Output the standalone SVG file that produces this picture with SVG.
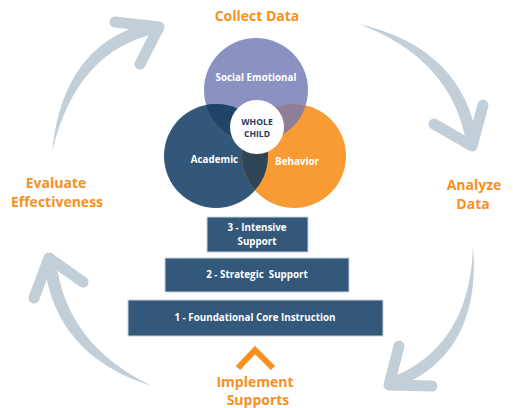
<svg xmlns="http://www.w3.org/2000/svg" width="513" height="408" viewBox="0 0 513 408">
<style>
.lbl{font-family:"Open Sans","Liberation Sans",sans-serif;font-weight:700;fill:#f7901e;font-size:14px;text-anchor:middle}
.wt{font-family:"Open Sans","Liberation Sans",sans-serif;font-weight:700;fill:#ffffff;font-size:9.8px;text-anchor:middle}
.nv{font-family:"Open Sans","Liberation Sans",sans-serif;font-weight:700;fill:#1f3a5a;font-size:8.6px;text-anchor:middle}
.shaft{fill:#c2ced8}
.head{fill:none;stroke:#c2ced8;stroke-width:11;stroke-linecap:round;stroke-linejoin:round}
.tier{fill:#33587a;stroke:#c9d3dc;stroke-width:1}
</style>
<defs>
<clipPath id="cS"><circle cx="256" cy="90" r="52"/></clipPath>
<clipPath id="cA"><circle cx="216" cy="156" r="52"/></clipPath>
</defs>
<rect width="513" height="408" fill="#ffffff"/>
<g id="connectors">
<g id="arrow-tl">
<path class="shaft" d="M52,152 Q63,40 156,21 L158,33 Q76,50 52,152 Z"/>
<path class="head" d="M115,22 L159,27 L140,64"/>
</g>
<g id="arrow-tr">
<path class="shaft" d="M359,24 Q462,48 477,139 L466,141 Q450,58 359,24 Z"/>
<path class="head" d="M434,124 L472,146 L483,105"/>
</g>
<g id="arrow-br">
<path class="shaft" d="M473,246 Q482,355 394,389 L390,378 Q470,347 473,246 Z"/>
<path class="head" d="M399,346 L389,385 L432,386"/>
</g>
<g id="arrow-bl">
<path class="shaft" d="M152,386 Q55,356 44,263 L56,261 Q66,345 152,386 Z"/>
<path class="head" d="M34,298 L49,258 L83,282"/>
</g>
</g>
<g id="venn">
<circle id="social-emotional-c" cx="256" cy="90" r="52" fill="#8b92c2"/>
<circle id="academic-c" cx="216" cy="156" r="52" fill="#335778"/>
<circle id="behavior-c" cx="294" cy="156" r="52" fill="#f99b34"/>
<g clip-path="url(#cS)"><circle cx="216" cy="156" r="52" fill="#1f4468"/></g>
<g clip-path="url(#cS)"><circle cx="294" cy="156" r="52" fill="#8e7e98"/></g>
<g clip-path="url(#cA)"><circle cx="294" cy="156" r="52" fill="#2f4555"/></g>
</g>
<g id="social-emotional"><text class="wt" x="256" y="81">Social Emotional</text></g>
<g id="academic"><text class="wt" x="214.5" y="163">Academic</text></g>
<g id="behavior"><text class="wt" x="297" y="165">Behavior</text></g>
<g id="whole-child">
<circle cx="257" cy="127" r="27" fill="#ffffff"/>
<text class="nv" x="257" y="124.5">WHOLE</text>
<text class="nv" x="257" y="137">CHILD</text>
</g>
<g id="tier3"><rect class="tier" x="207" y="217" width="101" height="35"/>
<text class="wt" x="257" y="231">3 - Intensive</text>
<text class="wt" x="257" y="245">Support</text></g>
<g id="tier2"><rect class="tier" x="165" y="258" width="184" height="34"/>
<text class="wt" x="257" y="278" xml:space="preserve">2 - Strategic  Support</text></g>
<g id="tier1"><rect class="tier" x="128" y="300" width="255" height="36"/>
<text class="wt" x="255" y="320.5">1 - Foundational Core Instruction</text></g>
<g id="implement-chevron"><path d="M238,368 L255,350 L273,368" fill="none" stroke="#f7901e" stroke-width="6"/></g>
<g id="collect-data"><text class="lbl" x="257" y="21">Collect Data</text></g>
<g id="analyze-data"><text class="lbl" x="474" y="190">Analyze</text><text class="lbl" x="473" y="209">Data</text></g>
<g id="evaluate"><text class="lbl" x="56" y="188">Evaluate</text><text class="lbl" x="57" y="207">Effectiveness</text></g>
<g id="implement"><text class="lbl" x="255" y="387">Implement</text><text class="lbl" x="258" y="405">Supports</text></g>
</svg>
